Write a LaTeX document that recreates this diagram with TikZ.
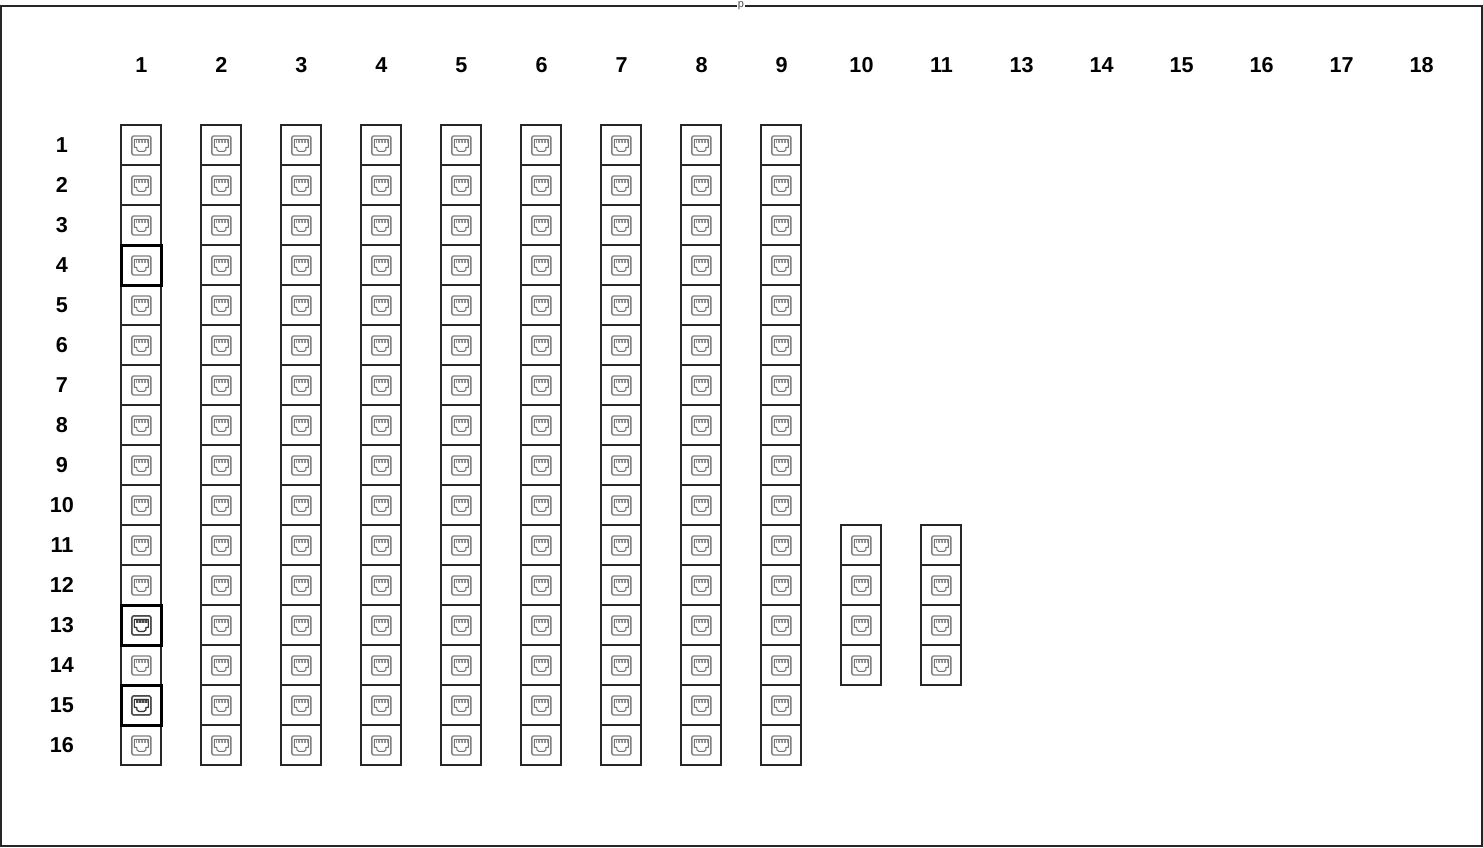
\documentclass[tikz,border=0pt]{standalone}
\usepackage{fontspec}
\setmainfont{Liberation Sans}
\tikzset{
  x=1pt,y=-1pt,
  frame/.style={draw=black!85,line width=2pt},
  cell/.style={draw=black!85,line width=2pt,fill=white,minimum size=40pt,inner sep=0pt,outer sep=0pt},
  hotcell/.style={cell,draw=black,line width=2.5pt},
  head/.style={font=\bfseries\fontsize{21.6}{24}\selectfont,text=black,inner sep=0pt,anchor=center},
  tiny/.style={font=\fontsize{11}{12}\selectfont,fill=white,inner sep=0.5pt,text=black!70},
  jackbox/.style={draw=black!50,line width=1.4pt,rounded corners=1.5pt},
  jackline/.style={draw=black!55,line width=1pt,line join=round},
  pins/.style={draw=black!40,line width=0.8pt},
  hotjack/.style={jackbox/.style={draw=black!70,line width=1.5pt,rounded corners=1.5pt},
    jackline/.style={draw=black!80,line width=1.1pt,line join=round},
    pins/.style={draw=black!70,line width=0.9pt}},
  pics/jack/.style={code={
    \draw[jackbox] (-9.5,-9.5) rectangle (9.5,9.5);
    \draw[jackline] (-7,-6) -- (7,-6) -- (7,2) -- (4.5,2) -- (4.5,4.5) -- (2.5,6) -- (-2.5,6) -- (-4.5,4.5) -- (-4.5,2) -- (-7,2) -- cycle;
    \foreach \t in {-5,-3.5,...,5.5} \draw[pins] (\t,-5.5) -- (\t,-2.5);
  }}
}
\begin{document}
\begin{tikzpicture}
\useasboundingbox (0,0) rectangle (1483,847);
\draw[frame] (1.2,5.5) rectangle (1482,845.5);
\node[tiny] (ptext) at (741,6) {p};
% column headers
\foreach \lab/\cx in {1/141.5,2/221.5,3/301.5,4/381.5,5/461.5,6/541.5,7/621.5,8/701.5,9/781.5,10/861.5,11/941.5,13/1021.5,14/1101.5,15/1181.5,16/1261.5,17/1341.5,18/1421.5}
  \node[head] (col\lab) at (\cx,65) {\lab};
% row headers
\foreach \r in {1,...,16}
  \node[head] (row\r) at (62,105.3+40*\r) {\r};
% columns 1-9
\foreach \c in {1,...,9}
  \foreach \r in {1,...,16}
    \node[cell] (c\c r\r) at (61.4+80*\c,105.45+40*\r) {};
\foreach \c in {10,11}
  \foreach \r in {11,...,14}
    \node[cell] (c\c r\r) at (61.4+80*\c,105.45+40*\r) {};
% emphasised cells
\node[hotcell] (hotA) at (c1r4) {};
\node[hotcell] (hotB) at (c1r13) {};
\node[hotcell] (hotC) at (c1r15) {};
% jacks
\foreach \c in {1,...,9}
  \foreach \r in {1,...,16}
    \path (c\c r\r) pic {jack};
\foreach \c in {10,11}
  \foreach \r in {11,...,14}
    \path (c\c r\r) pic {jack};
\path (c1r13) pic[hotjack] {jack};
\path (c1r15) pic[hotjack] {jack};
\end{tikzpicture}
\end{document}
